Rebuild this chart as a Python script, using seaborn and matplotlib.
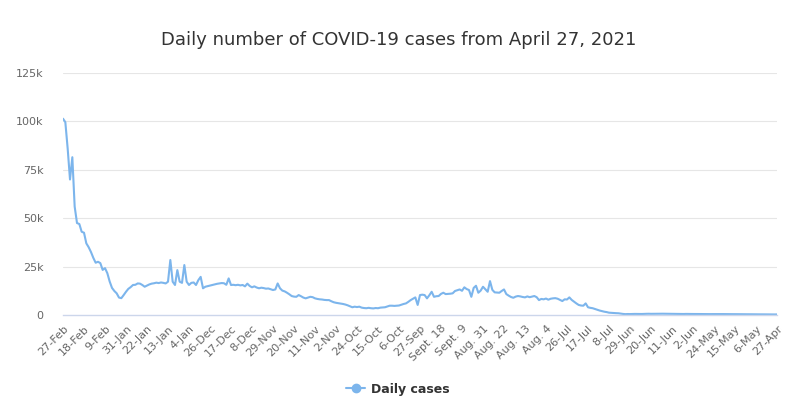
import matplotlib
matplotlib.use("Agg")
import matplotlib.pyplot as plt
import seaborn as sns
import pandas as pd
from matplotlib.lines import Line2D

title = "Daily number of COVID-19 cases from April 27, 2021"
series_name = "Daily cases"

tick_labels = ["27-Feb", "18-Feb", "9-Feb", "31-Jan", "22-Jan", "13-Jan", "4-Jan",
               "26-Dec", "17-Dec", "8-Dec", "29-Nov", "20-Nov", "11-Nov", "2-Nov",
               "24-Oct", "15-Oct", "6-Oct", "27-Sep", "Sept. 18", "Sept. 9",
               "Aug. 31", "Aug. 22", "Aug. 13", "Aug. 4", "26-Jul", "17-Jul",
               "8-Jul", "29-Jun", "20-Jun", "11-Jun", "2-Jun", "24-May", "15-May",
               "6-May", "27-Apr"]

daily_cases = [
    101400, 99600, 86000, 70000, 81500, 56000, 47500, 47000, 43000, 42500,
    37000, 35000, 32500, 29500, 27000, 27500, 26800, 23300, 24200, 21600,
    17300, 14000, 12400, 11200, 9000, 8700, 10300, 12000, 13500, 14400,
    15500, 15600, 16300, 16200, 15500, 14600, 15200, 15800, 16200, 16400,
    16700, 16500, 16800, 16600, 16300, 17200, 28400, 17200, 15500, 23200,
    17200, 16600, 25800, 17200, 15500, 16600, 16800, 15500, 18000, 19700,
    13800, 14600, 14900, 15200, 15500, 15800, 16100, 16300, 16500, 16400,
    15600, 18900, 15500, 15600, 15400, 15600, 15300, 15500, 14800, 16200,
    15000, 14300, 14800, 14200, 13800, 14100, 13900, 13600, 13700, 13300,
    12900, 13200, 16300, 13800, 12600, 12200, 11500, 10700, 9800, 9500,
    9400, 10300, 9700, 9000, 8600, 9000, 9400, 9200, 8600, 8300,
    8100, 8000, 7800, 7700, 7700, 7100, 6600, 6300, 6100, 5900,
    5700, 5400, 5000, 4500, 4000, 4300, 4100, 4300, 3800, 3600,
    3500, 3700, 3500, 3400, 3600, 3500, 3800, 3900, 4000, 4400,
    4800, 4800, 4700, 4800, 4900, 5300, 5700, 6000, 6800, 7700,
    8400, 9100, 5200, 10300, 10500, 10300, 8600, 10200, 12000, 9400,
    9700, 9800, 10900, 11500, 10800, 10900, 11000, 11200, 12400, 12800,
    13200, 12500, 14300, 13400, 12900, 9400, 14000, 15100, 11500, 12600,
    14600, 13300, 12000, 17500, 13000, 11700, 11600, 11500, 12400, 13200,
    10800, 10000, 9300, 8900, 9500, 9800, 9600, 9300, 9100, 9600,
    9200, 9500, 9800, 9200, 7700, 8300, 8100, 8500, 7900, 8400,
    8600, 8700, 8400, 7800, 7200, 8100, 8000, 9100, 7800, 6900,
    6000, 5200, 4900, 4800, 6000, 4000, 3700, 3500, 3100, 2700,
    2300, 2000, 1700, 1500, 1200, 1100, 1000, 950, 900, 700,
    550, 450, 500, 480, 520, 560, 540, 500, 520, 580,
    610, 640, 600, 620, 680, 650, 700, 660, 640, 610,
    600, 580, 560, 590, 570, 540, 520, 560, 530, 500,
    520, 540, 510, 490, 500, 470, 480, 460, 490, 470,
    480, 510, 490, 470, 450, 480, 460, 430, 450, 420,
    400, 430, 410, 380, 400, 370, 350, 380, 360, 330,
    340, 320, 300, 310, 290, 280, 300
]

df = pd.DataFrame({"pos": range(len(daily_cases)), "cases": daily_cases})

sns.set_theme(style="white")
plt.rcParams["font.family"] = ["DejaVu Sans"]

fig = plt.figure(figsize=(8.05, 4.03), dpi=100)
ax = fig.add_axes([63 / 805, (403 - 315) / 403, 714 / 805, (315 - 73) / 403])

line_color = "#7cb5ec"
sns.lineplot(data=df, x="pos", y="cases", ax=ax, color=line_color, linewidth=1.5,
             legend=False)

ax.set_xlim(0, len(daily_cases) - 1)
ax.set_ylim(0, 125000)
yticks = [0, 25000, 50000, 75000, 100000, 125000]
ax.set_yticks(yticks)
ax.set_yticklabels(["0" if v == 0 else f"{v // 1000}k" for v in yticks],
                   color="#666666", fontsize=8)
for v in yticks[1:]:
    ax.axhline(v, color="#e6e6e6", linewidth=0.8, zorder=0)

xt = list(range(0, len(daily_cases), 9))
ax.set_xticks(xt)
ax.set_xticklabels(tick_labels, rotation=45, ha="right", va="top",
                   rotation_mode="anchor", color="#666666", fontsize=8)
ax.tick_params(axis="both", length=0)
ax.tick_params(axis="y", pad=14)
ax.tick_params(axis="x", pad=6)

for s in ["top", "right", "left"]:
    ax.spines[s].set_visible(False)
ax.spines["bottom"].set_color("#ccd6eb")
ax.spines["bottom"].set_linewidth(1)
ax.set_xlabel("")
ax.set_ylabel("")
ax.grid(False)

fig.text(0.495, 1 - 40 / 403, title, ha="center", va="center",
         fontsize=13, color="#333333")

handle = Line2D([0], [0], color=line_color, linewidth=1.5, marker="o",
                markersize=6)
leg = fig.legend([handle], [series_name], loc="center",
                 bbox_to_anchor=(398 / 805, 1 - 389 / 403), frameon=False,
                 prop={"weight": "bold", "size": 9}, handlelength=1.5,
                 handletextpad=0.5)
for t in leg.get_texts():
    t.set_color("#333333")

fig.savefig("out.png", dpi=100)
